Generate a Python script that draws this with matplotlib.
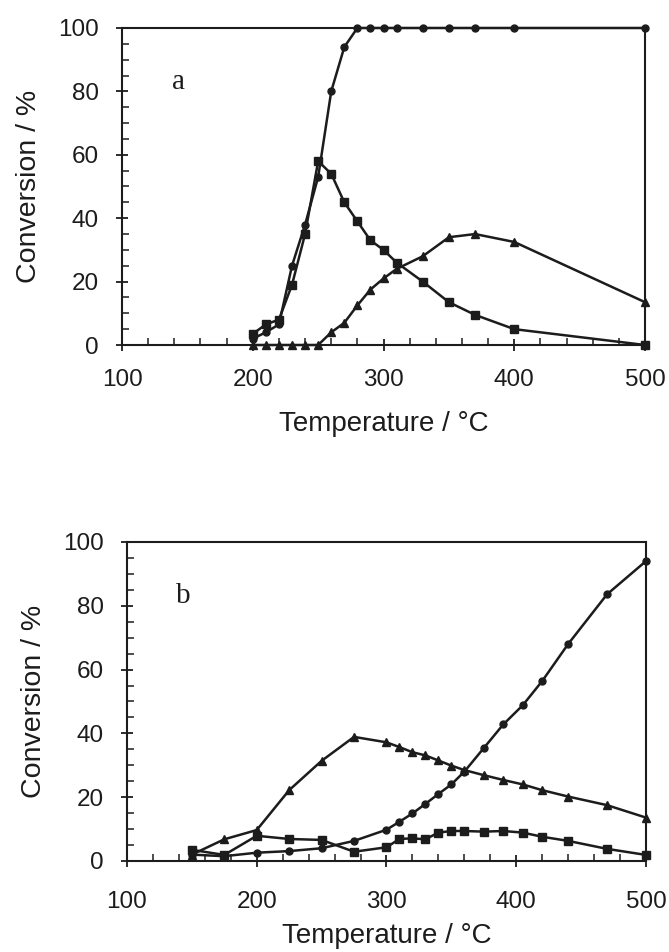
import matplotlib
matplotlib.use("Agg")
import matplotlib.pyplot as plt
from matplotlib.ticker import MultipleLocator

# Panel a: temperature (degC) and conversion (%)
temp_a = [200, 210, 220, 230, 240, 250, 260, 270, 280, 290, 300, 310, 330, 350, 370, 400, 500]
circles_a = [2, 4, 6.5, 25, 38, 53, 80, 94, 100, 100, 100, 100, 100, 100, 100, 100, 100]
squares_a = [3.5, 6.5, 8, 19, 35, 58, 54, 45, 39, 33, 30, 26, 20, 13.5, 9.5, 5, 0]
triangles_a = [0, 0, 0, 0, 0, 0, 4, 7, 12.5, 17.5, 21, 24, 28, 34, 35, 32.5, 13.5]

# Panel b
temp_b = [150, 175, 200, 225, 250, 275, 300, 310, 320, 330, 340, 350, 360, 375, 390, 405, 420, 440, 470, 500]
circles_b = [2, 1.5, 2.6, 3.1, 4.0, 6.3, 9.8, 12.3, 14.9, 17.9, 21, 24, 28, 35.4, 42.8, 48.8, 56.4, 68, 83.6, 94]
squares_b = [3.5, 1.9, 7.9, 6.9, 6.6, 2.9, 4.3, 6.9, 7.1, 6.8, 8.9, 9.4, 9.4, 9.2, 9.4, 8.9, 7.6, 6.3, 3.8, 1.9]
triangles_b = [2, 6.8, 9.7, 22.2, 31.4, 38.9, 37.2, 35.7, 34.1, 33.1, 31.5, 29.9, 28.5, 26.9, 25.4, 24, 22.2, 20.2, 17.5, 13.6]

x_ticks = [100, 200, 300, 400, 500]
y_ticks = [0, 20, 40, 60, 80, 100]

INK = "#1c1c1c"


def style_axes(ax, panel_label, xpad, xlabelpad):
    """
    Box, ticks and labels in the style of the scanned figure.
    :param ax: the axes to style
    :param panel_label: the letter written inside the plot
    :param xpad: gap between x ticks and their labels
    :param xlabelpad: gap between x tick labels and the axis title
    """
    ax.set_xlim(100, 500)
    ax.set_ylim(0, 100)
    ax.set_xticks(x_ticks)
    ax.set_yticks(y_ticks)
    ax.xaxis.set_minor_locator(MultipleLocator(20))
    ax.yaxis.set_minor_locator(MultipleLocator(5))
    ax.tick_params(which="major", direction="inout", length=9, width=1.3,
                   labelsize=17.5, pad=12, colors=INK)
    ax.tick_params(axis="x", which="major", pad=xpad)
    ax.tick_params(which="minor", direction="in", length=5, width=1.1, colors=INK)
    for side in ax.spines.values():
        side.set_linewidth(1.5)
        side.set_color(INK)
    ax.set_xlabel("Temperature / °C", fontsize=20, color=INK, labelpad=xlabelpad)
    ax.set_ylabel("Conversion / %", fontsize=20.5, color=INK, labelpad=12)
    ax.text(143, 83, panel_label, fontsize=21, family="Liberation Serif",
            ha="center", va="center", color=INK)


def draw_series(ax, temps, circles, squares, triangles):
    """
    Plots the three conversion curves on one panel.
    """
    common = dict(color=INK, linewidth=1.8, clip_on=False, zorder=3)
    ax.plot(temps, circles, marker="o", markersize=5, **common)
    ax.plot(temps, squares, marker="s", markersize=5.5, **common)
    ax.plot(temps, triangles, marker="^", markersize=5.5, **common)


def main():
    plt.rcParams["font.family"] = ["Liberation Sans", "DejaVu Sans"]
    fig = plt.figure(figsize=(6.69, 9.52), dpi=100)

    ax_a = fig.add_axes([0.1824, 0.6376, 0.7818, 0.333])
    draw_series(ax_a, temp_a, circles_a, squares_a, triangles_a)
    style_axes(ax_a, "a", xpad=13, xlabelpad=14)

    ax_b = fig.add_axes([0.1898, 0.0956, 0.7758, 0.3351])
    draw_series(ax_b, temp_b, circles_b, squares_b, triangles_b)
    style_axes(ax_b, "b", xpad=17, xlabelpad=7)

    fig.savefig("out.png", dpi=100)


if __name__ == "__main__":
    main()
